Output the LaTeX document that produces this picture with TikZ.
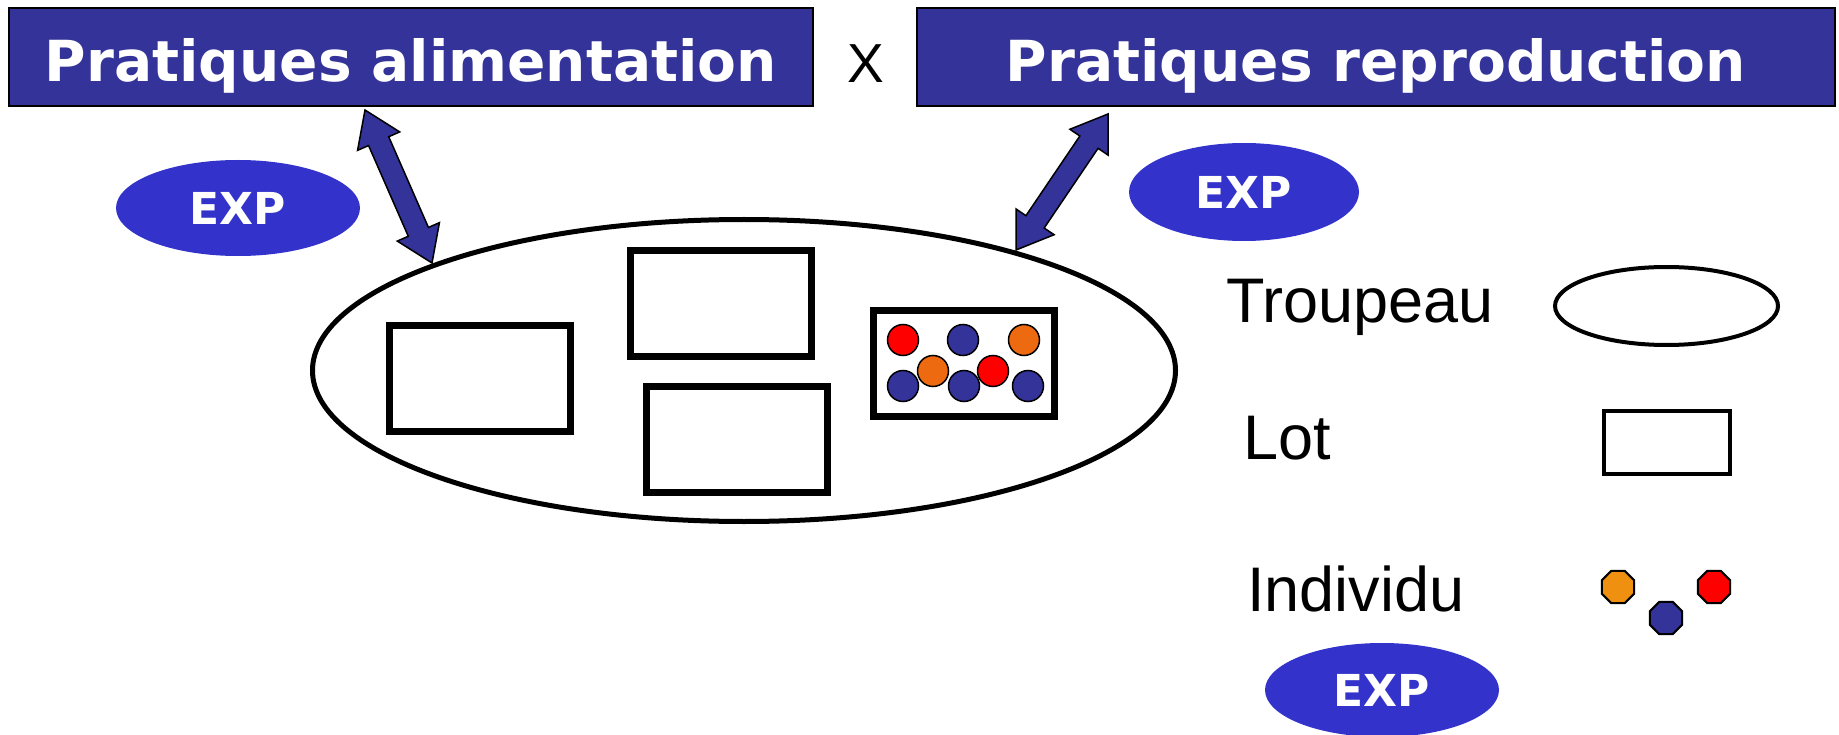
\documentclass[tikz,border=0pt]{standalone}
\usepackage{fontspec}
\setmainfont{Liberation Sans}
\newfontfamily\titlefont{DejaVu Sans}
\usetikzlibrary{shapes.geometric,calc,positioning}

\definecolor{titleblue}{HTML}{333399}
\definecolor{expblue}{HTML}{3333CC}
\definecolor{dotred}{HTML}{FF0000}
\definecolor{dotorange}{HTML}{EE6A11}
\definecolor{legorange}{HTML}{F09010}

\begin{document}
\begin{tikzpicture}[x=1pt,y=-1pt,
  titlebox/.style={draw=black,line width=2pt,fill=titleblue,text=white,
    font=\titlefont\bfseries\fontsize{56.6pt}{60pt}\selectfont,
    minimum height=98pt,text height=50pt,text depth=0pt,inner sep=0pt},
  expnode/.style={ellipse,fill=expblue,text=white,inner sep=0pt,
    font=\titlefont\bfseries\fontsize{44pt}{48pt}\selectfont},
  lotbox/.style={draw=black,line width=7pt,fill=white,minimum width=181pt,minimum height=106pt},
  indiv/.style={circle,draw=black,line width=1.5pt,minimum size=31pt,inner sep=0pt},
  octo/.style={regular polygon,regular polygon sides=8,draw=black,line width=2pt,
    minimum size=35pt,inner sep=0pt},
  legtext/.style={inner sep=0pt,anchor=base west,font=\fontsize{63pt}{66pt}\selectfont},
  arrowbody/.style={draw=black,line width=1.5pt,fill=titleblue,line join=miter}]

\useasboundingbox (0,0) rectangle (1839,735);

% practices
\node[titlebox,minimum width=804pt] (alim)  at (411,57)  {Pratiques alimentation};
\node[titlebox,minimum width=918pt] (repro) at (1376,57) {Pratiques reproduction};
\node[font=\fontsize{55pt}{58pt}\selectfont,inner sep=0pt] (fois) at (866,64) {X};

% herd and lots
\node[ellipse,draw=black,line width=5pt,minimum width=863pt,minimum height=302pt] (herd) at (744,370.5) {};
\node[lotbox] (lotA) at (480,378.5) {};
\node[lotbox] (lotB) at (721,303.5) {};
\node[lotbox] (lotC) at (737,439)   {};
\node[lotbox] (lotD) at (963.5,363.5) {};

\foreach \px/\py/\c [count=\i] in {903/340/dotred,963/340/titleblue,1024/340/dotorange,
    933/371/dotorange,993/371/dotred,903/386/titleblue,964/386/titleblue,1028/386/titleblue}
  \node[indiv,fill=\c] (ind\i) at (\px,\py) {};

% experimentation
\node[expnode,minimum width=244pt,minimum height=96pt] (expA) at (238,208)  {EXP};
\node[expnode,minimum width=230pt,minimum height=98pt] (expB) at (1244,192) {EXP};
\node[expnode,minimum width=234pt,minimum height=94pt] (expC) at (1382,690) {EXP};

% arrows between practices and herd
\coordinate (alimTip)  at (365,110);
\coordinate (herdTipA) at (432,263);
\coordinate (reproTip) at (1108,114);
\coordinate (herdTipB) at (1016,250);

\foreach \a/\b in {alimTip/herdTipA,reproTip/herdTipB}
  \draw[arrowbody] (\a)
    -- ($(\a)!34pt!(\b)!23pt!90:(\b)$)
    -- ($(\a)!34pt!(\b)!11pt!90:(\b)$)
    -- ($(\b)!34pt!(\a)!11pt!-90:(\a)$)
    -- ($(\b)!34pt!(\a)!23pt!-90:(\a)$)
    -- (\b)
    -- ($(\b)!34pt!(\a)!23pt!90:(\a)$)
    -- ($(\b)!34pt!(\a)!11pt!90:(\a)$)
    -- ($(\a)!34pt!(\b)!11pt!-90:(\b)$)
    -- ($(\a)!34pt!(\b)!23pt!-90:(\b)$)
    -- cycle;

% legend
\node[legtext] (troupeauLbl) at (1226,323) {Troupeau};
\node[legtext] (lotLbl)      at (1243,459) {Lot};
\node[legtext] (indivLbl)    at (1247,611) {Individu};

\node[ellipse,draw=black,line width=4pt,minimum width=223pt,minimum height=78pt] (herdKey) at (1666.5,306) {};
\node[draw=black,line width=4pt,minimum width=126pt,minimum height=63pt] (lotKey) at (1667,442.5) {};
\node[octo,fill=legorange] (octA) at (1618,587) {};
\node[octo,fill=titleblue] (octB) at (1666,618) {};
\node[octo,fill=dotred]    (octC) at (1714,587) {};

\end{tikzpicture}
\end{document}
